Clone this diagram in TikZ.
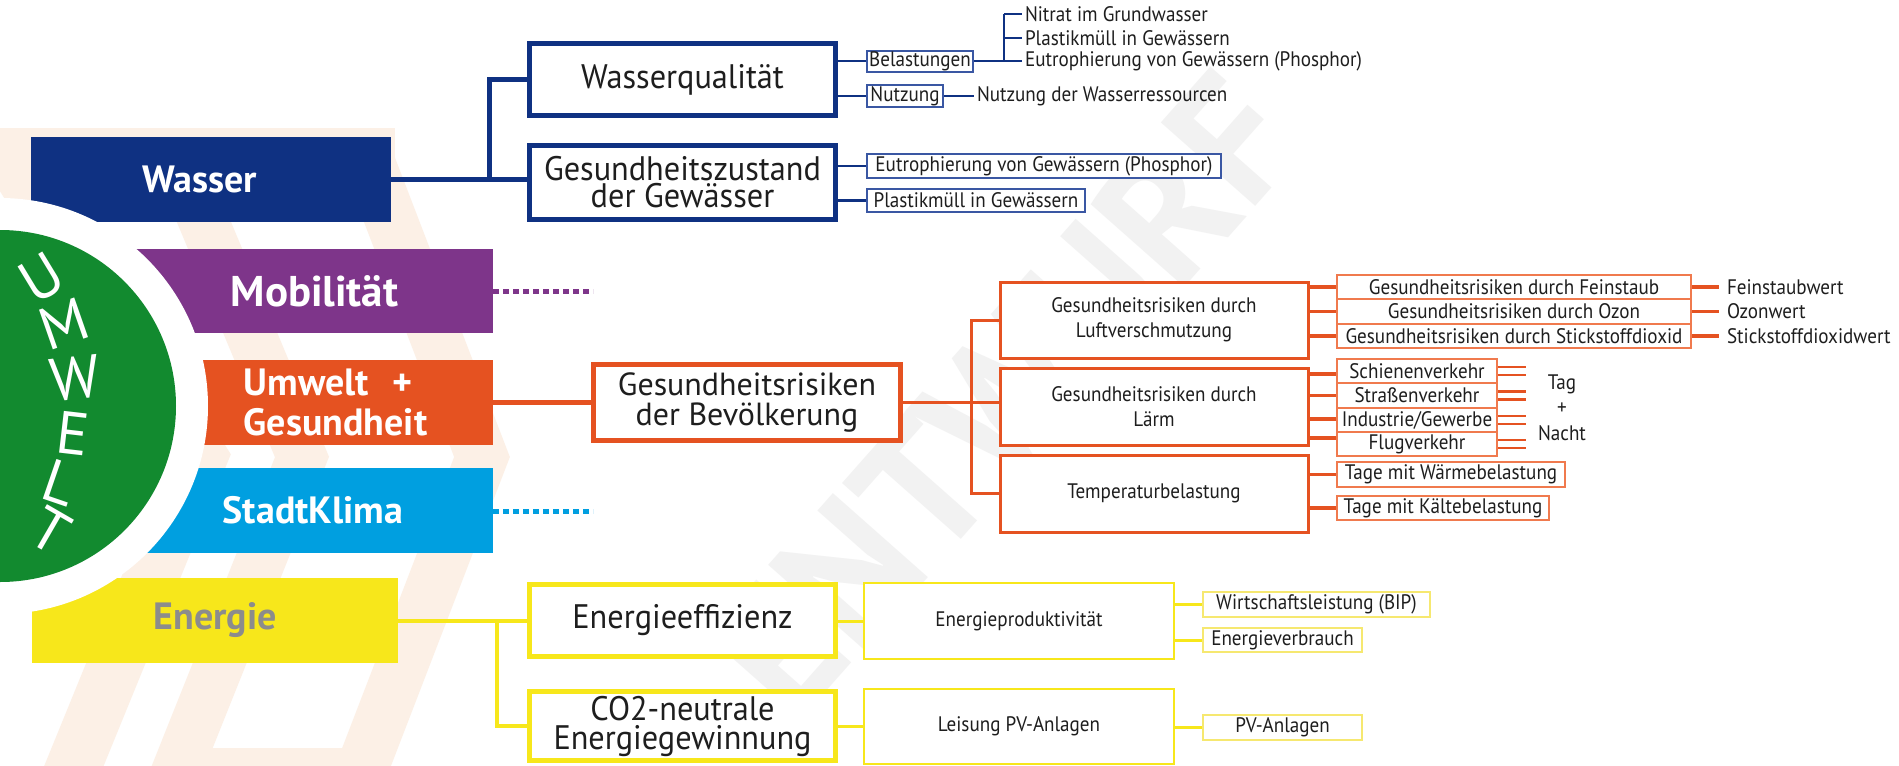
\documentclass[tikz,border=0pt]{standalone}
\usepackage{fontspec}
\setmainfont{PT Sans}
\newfontfamily\condf{PT Sans}[FakeStretch=0.91]
\newfontfamily\bigf{PT Sans}[FakeStretch=0.95]
\usetikzlibrary{calc}

\definecolor{wblue}{HTML}{0F3182}
\definecolor{wbluel}{HTML}{3A57A3}
\definecolor{mpurple}{HTML}{7E358A}
\definecolor{gorange}{HTML}{E55221}
\definecolor{gorangel}{HTML}{F07A4E}
\definecolor{kcyan}{HTML}{009FE0}
\definecolor{ugreen}{HTML}{128A2F}
\definecolor{eyellow}{HTML}{F7E71B}
\definecolor{eyellowl}{HTML}{F6E870}
\definecolor{egray}{HTML}{8C8C8C}
\definecolor{ink}{HTML}{1E1E1E}
\definecolor{beige}{HTML}{FCF0E6}
\definecolor{wmark}{HTML}{F2F2F2}

\pgfdeclarelayer{back}
\pgfdeclarelayer{wires}
\pgfsetlayers{back,wires,main}

\begin{document}
\begin{tikzpicture}[x=1pt,y=-1pt,
  every node/.style={inner sep=0pt,outer sep=0pt},
  catbox/.style={draw=none,inner sep=0pt},
  cattext/.style={text=white,font=\bfseries\fontsize{38}{40}\selectfont,align=left},
  bigbox/.style={draw,line width=5pt,fill=white,text=ink,font=\bigf\fontsize{34}{27}\selectfont,align=center},
  midbox/.style={draw,line width=3pt,fill=white,text=ink,font=\condf\fontsize{21}{25}\selectfont,align=center},
  smallbox/.style={draw,line width=2pt,fill=white,text=ink,font=\condf\fontsize{21}{22}\selectfont},
  plain/.style={text=ink,font=\condf\fontsize{21}{22}\selectfont,inner xsep=3pt},
  umw/.style={text=white,font=\fontsize{60}{60}\selectfont},
  bl/.style={draw=wblue,line width=5pt},
  blt/.style={draw=wblue,line width=2.5pt},
  ol/.style={draw=gorange,line width=5pt},
  olm/.style={draw=gorange,line width=3pt},
  yl/.style={draw=eyellow,line width=4pt},
  ylm/.style={draw=eyellow,line width=3pt},
  dots/.style={line width=5pt,dash pattern=on 6pt off 4pt}
]
\useasboundingbox (0,0) rectangle (1899,766);

% ---------- background: paper, logo stripes, watermark ----------
\begin{pgfonlayer}{back}
  \fill[white] (0,0) rectangle (1899,766);
  \begin{scope}
    \clip (0,128) rectangle (700,766);
    \fill[beige] (-30,128) rectangle (395,175);
    \draw[beige,line width=55pt] (-25,100) -- (200,457) -- (60,800);
    \draw[beige,line width=50pt] (153,100) -- (302,457) -- (165,800);
    \draw[beige,line width=52pt] (345,100) -- (482,457) -- (350,800);
    \fill[beige] (170,748) rectangle (365,800);
  \end{scope}
  \node[text=wmark,rotate=48.5,font=\bfseries\fontsize{180}{180}\selectfont] (wm) at (1005,395) {ENTWURF};
\end{pgfonlayer}

% ---------- category bars ----------
\node[catbox,fill=wblue,minimum width=360pt,minimum height=85pt,
      label={[cattext,xshift=-11pt]center:Wasser}] (wasser) at (211,179.5) {};
\node[catbox,fill=mpurple,minimum width=357pt,minimum height=84pt,
      label={[cattext,font=\bfseries\fontsize{43}{43}\selectfont]center:Mobilität}] (mob) at (314.5,291) {};
\node[catbox,fill=gorange,minimum width=297pt,minimum height=85pt,
      label={[cattext,xshift=-9pt]center:{Umwelt\hspace{14pt} +\\Gesundheit}}] (ug) at (344.5,402.5) {};
\node[catbox,fill=kcyan,minimum width=393pt,minimum height=85pt,
      label={[cattext,xshift=16.5pt]center:StadtKlima}] (sk) at (296.5,510.5) {};
\node[catbox,fill=eyellow,minimum width=366pt,minimum height=85pt,
      label={[cattext,text=egray]center:Energie}] (energie) at (215,620.5) {};

% white ring and green disc with the lettering along its edge
\fill[white] (0,406) circle[radius=208pt];
\fill[ugreen] (0,406) circle[radius=176pt];
\node[umw,rotate=31.3] (u1) at (41,278) {U};
\node[umw,rotate=19.2] (u2) at (64,324) {M};
\node[umw,rotate=6.3] (u3) at (75,378) {W};
\node[umw,rotate=-6.6] (u4) at (73,433) {E};
\node[umw,rotate=-18.9] (u5) at (60,483) {L};
\node[umw,rotate=-30] (u6) at (50,531) {T};

% ---------- Wasser branch ----------
\node[bigbox,draw=wblue,minimum width=306pt,minimum height=72pt] (wq) at (682.5,79.5) {Wasserqualität};
\node[bigbox,draw=wblue,minimum width=306pt,minimum height=74pt] (gz) at (682.5,182.5) {Gesundheitszustand\\der Gewässer};
\node[smallbox,draw=wbluel,minimum width=106pt,minimum height=21pt] (bel) at (920,61) {Belastungen};
\node[smallbox,draw=wbluel,minimum width=76pt,minimum height=22pt] (nutz) at (905,96) {Nutzung};
\node[smallbox,draw=wbluel,minimum width=354pt,minimum height=24pt] (eut2) at (1044,166) {Eutrophierung von Gewässern (Phosphor)};
\node[smallbox,draw=wbluel,minimum width=218pt,minimum height=23pt] (plast2) at (976,200.5) {Plastikmüll in Gewässern};
\node[plain,anchor=west] (nitrat) at (1022,14) {Nitrat im Grundwasser};
\node[plain,anchor=west] (plast1) at (1022,38) {Plastikmüll in Gewässern};
\node[plain,anchor=west] (eut1) at (1022,61) {Eutrophierung von Gewässern (Phosphor)};
\node[plain,anchor=west] (nutzw) at (974,96) {Nutzung der Wasserressourcen};
\coordinate (wj) at (489,179.5);
\coordinate (bj) at (1004,61);

% ---------- Umwelt + Gesundheit branch ----------
\node[bigbox,draw=gorange,minimum width=307pt,minimum height=76pt,font=\fontsize{32}{30}\selectfont] (gb) at (747,402.5) {Gesundheitsrisiken\\der Bevölkerung};
\node[midbox,draw=gorange,minimum width=308pt,minimum height=76pt] (luft) at (1154,320) {Gesundheitsrisiken durch\\Luftverschmutzung};
\node[midbox,draw=gorange,minimum width=308pt,minimum height=77pt] (laerm) at (1154,406.5) {Gesundheitsrisiken durch\\Lärm};
\node[midbox,draw=gorange,minimum width=308pt,minimum height=77pt] (temp) at (1154,493.5) {Temperaturbelastung};
\node[smallbox,draw=gorangel,minimum width=354pt,minimum height=24pt] (f1) at (1514,287) {Gesundheitsrisiken durch Feinstaub};
\node[smallbox,draw=gorangel,minimum width=354pt,minimum height=25pt] (f2) at (1514,311.5) {Gesundheitsrisiken durch Ozon};
\node[smallbox,draw=gorangel,minimum width=354pt,minimum height=24pt] (f3) at (1514,336) {Gesundheitsrisiken durch Stickstoffdioxid};
\node[smallbox,draw=gorangel,minimum width=160pt,minimum height=24pt] (l1) at (1417,371) {Schienenverkehr};
\node[smallbox,draw=gorangel,minimum width=160pt,minimum height=25pt] (l2) at (1417,395.5) {Straßenverkehr};
\node[smallbox,draw=gorangel,minimum width=160pt,minimum height=24pt] (l3) at (1417,420) {Industrie/Gewerbe};
\node[smallbox,draw=gorangel,minimum width=160pt,minimum height=24pt] (l4) at (1417,444) {Flugverkehr};
\node[smallbox,draw=gorangel,minimum width=228pt,minimum height=25pt] (tw) at (1451,474.5) {Tage mit Wärmebelastung};
\node[smallbox,draw=gorangel,minimum width=212pt,minimum height=24pt] (tk) at (1443,508) {Tage mit Kältebelastung};
\node[plain,anchor=west,inner xsep=8pt] (feinw) at (1719,287) {Feinstaubwert};
\node[plain,anchor=west,inner xsep=8pt] (ozonw) at (1719,311.5) {Ozonwert};
\node[plain,anchor=west,inner xsep=8pt] (stickw) at (1719,336) {Stickstoffdioxidwert};
\node[plain] (tag) at (1562,384) {Tag};
\node[plain] (plus) at (1562,409) {+};
\node[plain] (nacht) at (1562,433) {Nacht};
\coordinate (oj) at (971,402.5);
\coordinate (lc1) at ([yshift=-3pt]l1.west);
\coordinate (lc2) at (l2.west);
\coordinate (lc3) at ([yshift=1pt]l3.west);
\coordinate (lc4) at ([yshift=6pt]l4.west);

% ---------- Energie branch ----------
\node[bigbox,draw=eyellow,minimum width=306pt,minimum height=72pt] (ee) at (682.5,620.5) {Energieeffizienz};
\node[bigbox,draw=eyellow,minimum width=306pt,minimum height=69pt,font=\bigf\fontsize{34}{29}\selectfont] (co2) at (682.5,726) {CO2-neutrale\\Energiegewinnung};
\node[midbox,draw=eyellow,line width=2.5pt,minimum width=310pt,minimum height=76pt] (ep) at (1019,621) {Energieproduktivität};
\node[midbox,draw=eyellow,line width=2.5pt,minimum width=310pt,minimum height=75pt] (lpv) at (1019,726.5) {Leisung PV-Anlagen};
\node[smallbox,draw=eyellowl,minimum width=227pt,minimum height=25pt] (wl) at (1316.5,604.5) {Wirtschaftsleistung (BIP)};
\node[smallbox,draw=eyellowl,minimum width=159pt,minimum height=24pt] (ev) at (1282.5,640) {Energieverbrauch};
\node[smallbox,draw=eyellowl,minimum width=159pt,minimum height=25pt] (pv) at (1282.5,727.5) {PV-Anlagen};
\coordinate (ej) at (497,620.5);

% dotted stubs
\coordinate (mobend) at (593,291);
\coordinate (skend) at (593,511);

% ---------- connectors ----------
\begin{pgfonlayer}{wires}
  % Wasser
  \draw[bl] (wasser.east) -- (wasser.east -| gz.west);
  \draw[bl] (wj) |- (wq.west);
  \draw[blt] (bel.west -| wq.east) -- (bel.west);
  \draw[blt] (nutz.west -| wq.east) -- (nutz.west);
  \draw[blt] (bel.east) -- (bj);
  \draw[blt] (nitrat.west -| bj) -- (eut1.west -| bj);
  \foreach \n in {nitrat,plast1,eut1} \draw[blt] (\n.west -| bj) -- (\n.west);
  \draw[blt] (nutz.east) -- (nutzw.west);
  \draw[blt] (eut2.west -| gz.east) -- (eut2.west);
  \draw[blt] (plast2.west -| gz.east) -- (plast2.west);
  % Mobilitaet / StadtKlima
  \draw[mpurple,dots] (mob.east) -- (mobend);
  \draw[kcyan,dots] (sk.east |- skend) -- (skend);
  % Umwelt + Gesundheit
  \draw[ol] (ug.east) -- (gb.west);
  \draw[olm] (gb.east) -- (gb.east -| laerm.west);
  \draw[olm] (luft.west) -| (oj) |- (temp.west);
  \foreach \n in {f1,f2,f3} \draw[olm,line width=3.5pt] (\n.west -| luft.east) -- (\n.west);
  \foreach \n in {lc1,lc2,lc3,lc4} \draw[olm,line width=3.5pt] (\n) -- (\n -| laerm.east);
  \foreach \n in {tw,tk} \draw[olm,line width=3.5pt] (\n.west -| temp.east) -- (\n.west);
  \draw[olm,line width=3.5pt] (f1.east) -- (feinw.west);
  \draw[olm,line width=3.5pt] (f2.east) -- (ozonw.west);
  \draw[olm,line width=3.5pt] (f3.east) -- (stickw.west);
  \foreach \n in {l1,l2,l3,l4}{
    \draw[olm,line width=2.5pt] ([yshift=4pt]\n.east) -- ([yshift=4pt,xshift=29pt]\n.east);
    \draw[olm,line width=2.5pt] ([yshift=-4pt]\n.east) -- ([yshift=-4pt,xshift=29pt]\n.east);
  }
  % Energie
  \draw[yl] (energie.east) -- (energie.east -| ee.west);
  \draw[yl] (ej) |- (co2.west);
  \draw[ylm] (ep.west -| ee.east) -- (ep.west);
  \draw[ylm] (lpv.west -| co2.east) -- (lpv.west);
  \draw[ylm] (wl.west -| ep.east) -- (wl.west);
  \draw[ylm] (ev.west -| ep.east) -- (ev.west);
  \draw[ylm] (pv.west -| lpv.east) -- (pv.west);
\end{pgfonlayer}
\end{tikzpicture}
\end{document}
